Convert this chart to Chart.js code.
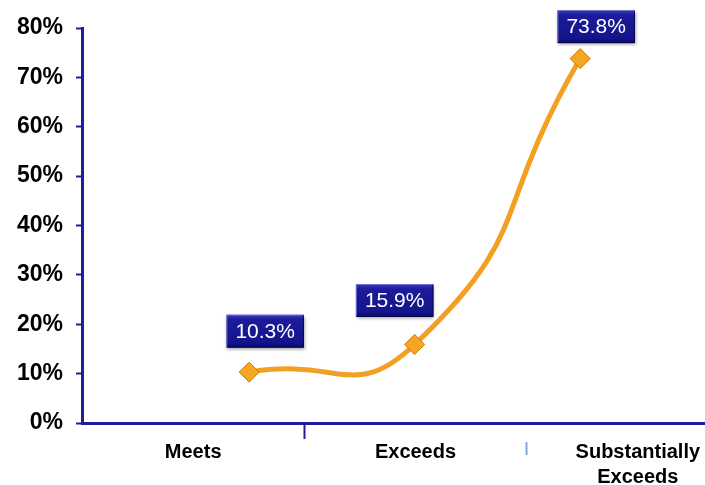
<!DOCTYPE html>
<html>
<head>
<meta charset="utf-8">
<title>Performance rating distribution</title>
<script src="https://cdn.jsdelivr.net/npm/chart.js@4/dist/chart.umd.min.js"></script>
<style>
  html, body { margin: 0; padding: 0; background: #ffffff; overflow: hidden; }
  #wrap { width: 705px; height: 485px; position: relative; overflow: hidden; }
  #chart { position: absolute; left: 0; top: 0; }
</style>
</head>
<body>
<div id="wrap"><canvas id="chart" width="760" height="485"></canvas></div>
<script>
// Rating categories and the share of results in each
const categories = ['Meets', 'Exceeds', ['Substantially', 'Exceeds']];
const shares = [10.3, 15.9, 73.8];
const yTickValues = [0, 10, 20, 30, 40, 50, 60, 70, 80];

const NAVY = '#1e1e98';
const ORANGE = '#f2a022';
const FONT = "'Liberation Sans', Arial, sans-serif";

// Boxed value labels drawn above each point
const valueBoxes = {
  id: 'valueBoxes',
  afterDatasetsDraw(chart, args, opts) {
    const ctx = chart.ctx;
    const meta = chart.getDatasetMeta(0);
    ctx.save();
    ctx.font = opts.font;
    meta.data.forEach((pt, i) => {
      const text = shares[i].toFixed(1) + '%';
      const [dx, dy] = opts.offsets[i];
      const w = ctx.measureText(text).width + opts.padX * 2;
      const h = opts.height;
      const cx = pt.x + dx, cy = pt.y + dy;
      const x0 = cx - w / 2, y0 = cy - h / 2;
      // shadowed body
      ctx.save();
      ctx.shadowColor = 'rgba(0,0,0,0.35)';
      ctx.shadowBlur = 3;
      ctx.shadowOffsetX = 1;
      ctx.shadowOffsetY = 2;
      const g = ctx.createLinearGradient(0, y0, 0, y0 + h);
      g.addColorStop(0, '#3a3ab8');
      g.addColorStop(0.15, '#1c1c9c');
      g.addColorStop(0.85, '#14148c');
      g.addColorStop(1, '#08086a');
      ctx.fillStyle = g;
      ctx.fillRect(x0, y0, w, h);
      ctx.restore();
      // bevel edges
      ctx.strokeStyle = 'rgba(140,140,230,0.7)';
      ctx.lineWidth = 1;
      ctx.beginPath();
      ctx.moveTo(x0 + 0.5, y0 + h - 1);
      ctx.lineTo(x0 + 0.5, y0 + 0.5);
      ctx.lineTo(x0 + w - 1, y0 + 0.5);
      ctx.stroke();
      ctx.strokeStyle = 'rgba(5,5,70,0.9)';
      ctx.beginPath();
      ctx.moveTo(x0 + w - 0.5, y0 + 1);
      ctx.lineTo(x0 + w - 0.5, y0 + h - 0.5);
      ctx.lineTo(x0 + 1, y0 + h - 0.5);
      ctx.stroke();
      // text
      ctx.fillStyle = '#ffffff';
      ctx.textAlign = 'center';
      ctx.textBaseline = 'middle';
      ctx.fillText(text, cx, cy + 1);
    });
    ctx.restore();
  }
};

new Chart(document.getElementById('chart'), {
  type: 'line',
  data: {
    labels: categories,
    datasets: [{
      data: shares.map((v, i) => ({ x: i + 1, y: v })),
      xAxisID: 'xp',
      yAxisID: 'y',
      borderColor: ORANGE,
      borderWidth: 5,
      tension: 0.55,
      fill: false,
      pointStyle: 'rectRot',
      pointRadius: 10,
      pointHoverRadius: 10,
      pointBackgroundColor: '#f6a623',
      pointBorderColor: '#c67810',
      pointBorderWidth: 1
    }]
  },
  options: {
    responsive: false,
    animation: false,
    events: [],
    layout: { padding: { left: 0, right: 4, top: 28, bottom: 0 } },
    plugins: {
      legend: { display: false },
      tooltip: { enabled: false },
      valueBoxes: {
        font: '21px ' + FONT,
        padX: 9,
        height: 33,
        offsets: [[16, -41], [-20, -44], [16, -32]]
      }
    },
    scales: {
      x: {
        type: 'category',
        position: 'bottom',
        offset: true,
        afterFit: (scale) => { scale.height = 62; },
        grid: {
          offset: true,
          drawOnChartArea: false,
          drawTicks: true,
          tickLength: 32,
          tickWidth: 2,
          tickColor: (c) => c.index === 1 ? NAVY : (c.index === 2 ? '#86a6da' : 'rgba(0,0,0,0)'),
          tickBorderDash: (c) => c.index === 2 ? [0, 17, 16, 40] : [14, 40]
        },
        border: { display: true, color: NAVY, width: 3 },
        ticks: {
          color: '#000000',
          font: { family: FONT, size: 20, weight: 'bold', lineHeight: 1.25 },
          padding: -15,
          labelOffset: 0,
          maxRotation: 0,
          autoSkip: false
        }
      },
      xp: {
        type: 'linear',
        display: false,
        min: -0.01,
        max: 4.02
      },
      y: {
        type: 'linear',
        min: 0,
        max: 80,
        afterBuildTicks: (scale) => { scale.ticks = yTickValues.map(v => ({ value: v })); },
        afterFit: (scale) => { scale.width = 82; },
        grid: {
          drawOnChartArea: false,
          drawTicks: true,
          tickLength: 6,
          tickWidth: 2,
          tickColor: NAVY
        },
        border: { display: true, color: NAVY, width: 3 },
        ticks: {
          color: '#000000',
          font: { family: FONT, size: 23, weight: 'bold' },
          padding: 13,
          callback: (v) => v + '%'
        }
      }
    }
  },
  plugins: [valueBoxes]
});
</script>
</body>
</html>
